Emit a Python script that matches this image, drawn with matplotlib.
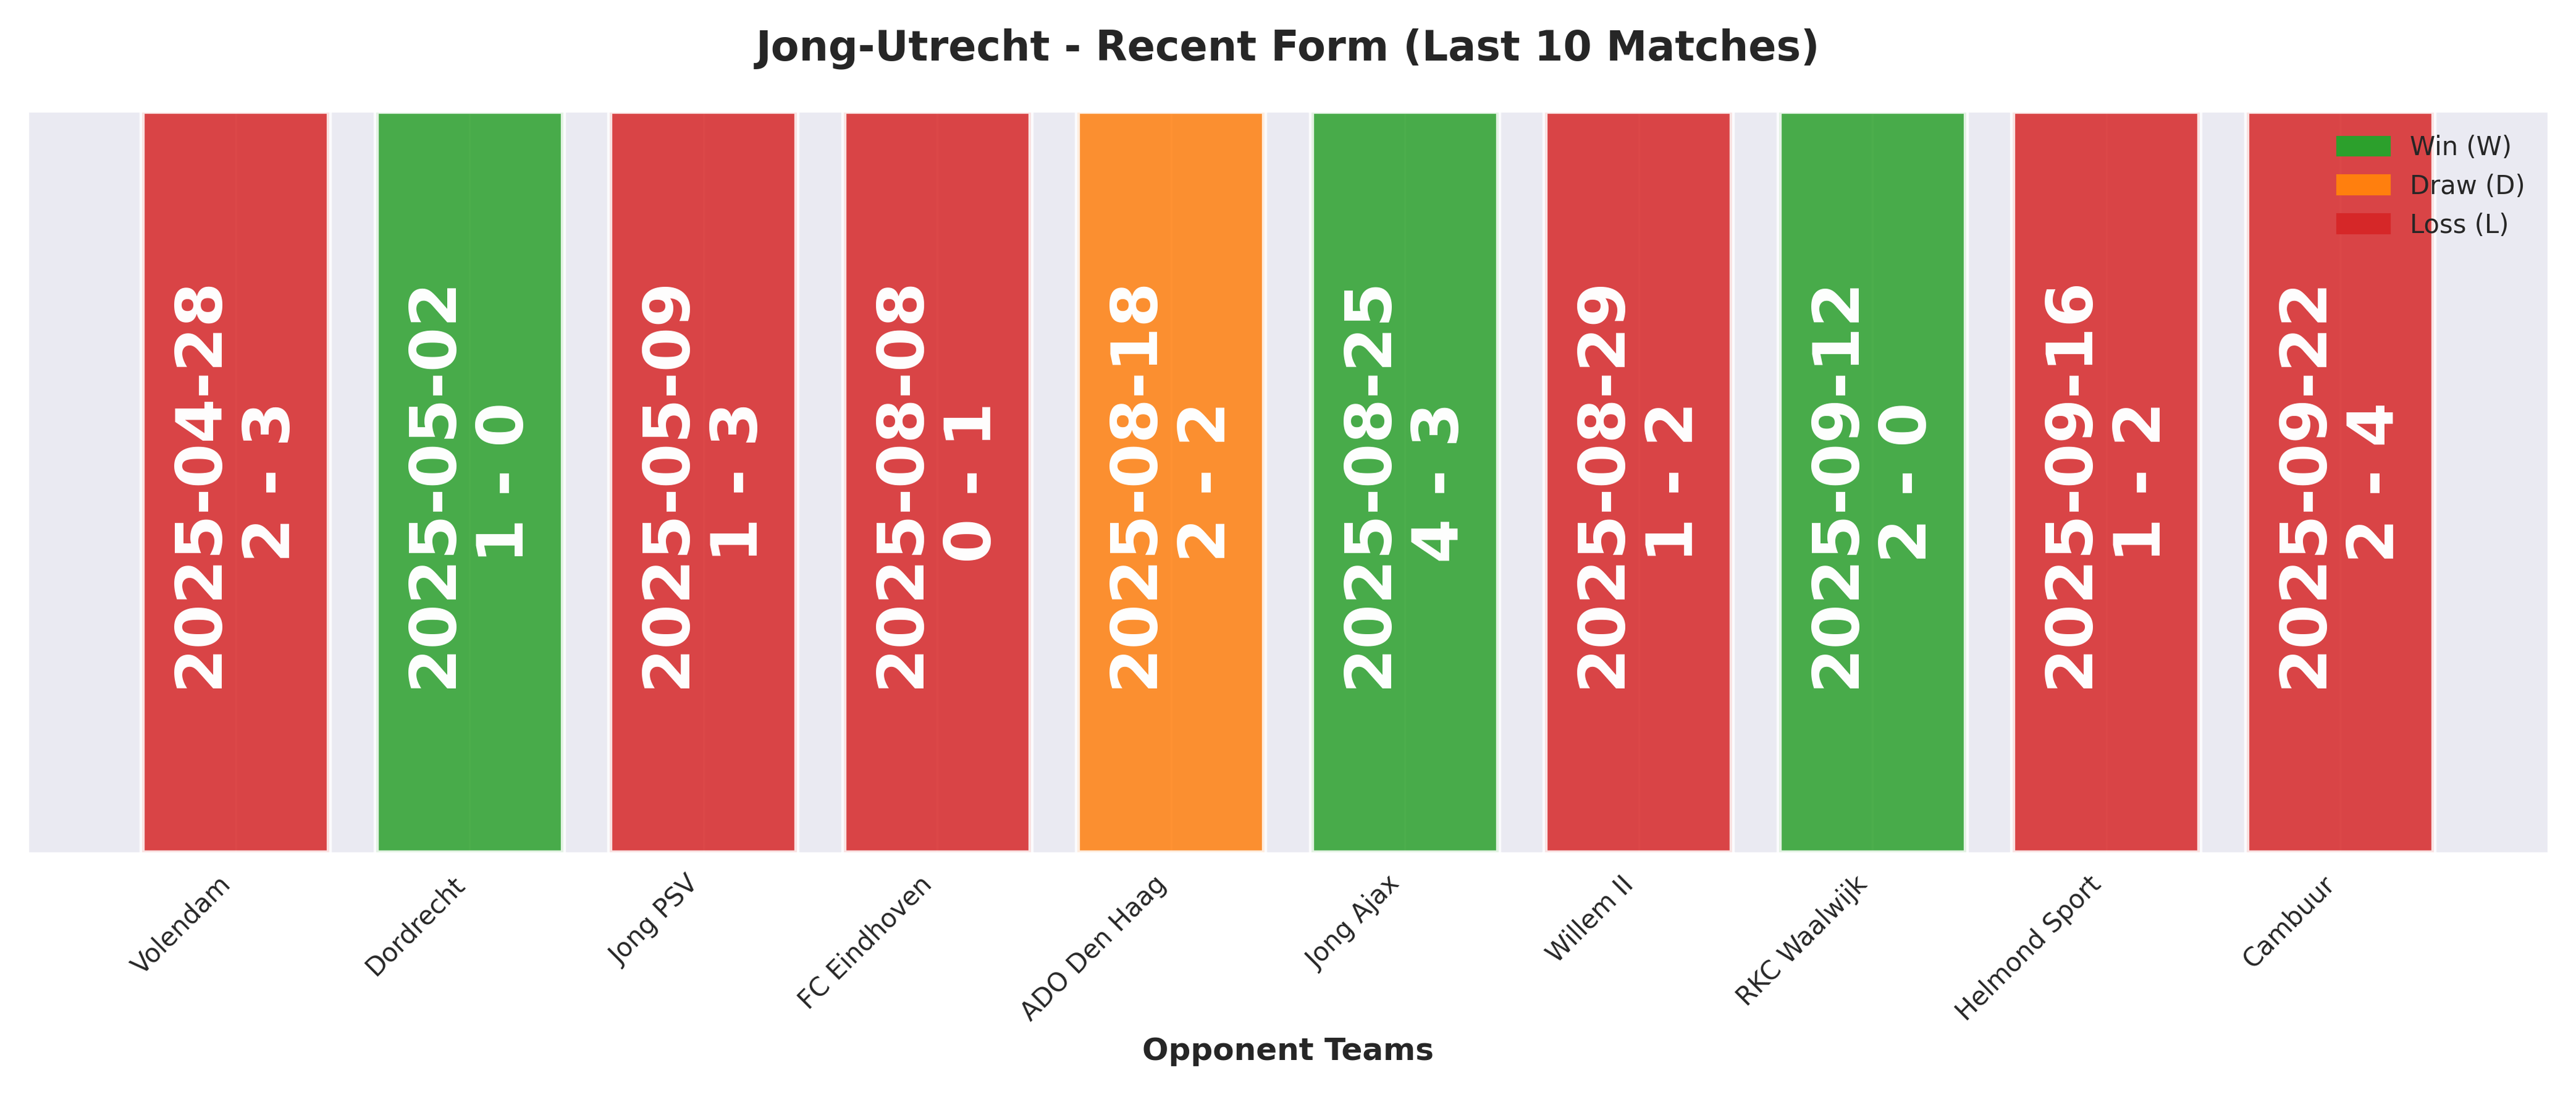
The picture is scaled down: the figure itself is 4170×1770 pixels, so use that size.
import matplotlib
matplotlib.use("Agg")
import matplotlib.pyplot as plt
import seaborn as sns
from matplotlib.patches import Patch

sns.set_style("darkgrid")

opponents = ["Volendam", "Dordrecht", "Jong PSV", "FC Eindhoven", "ADO Den Haag",
             "Jong Ajax", "Willem II", "RKC Waalwijk", "Helmond Sport", "Cambuur"]
dates = ["2025-04-28", "2025-05-02", "2025-05-09", "2025-08-08", "2025-08-18",
         "2025-08-25", "2025-08-29", "2025-09-12", "2025-09-16", "2025-09-22"]
scores = ["2 - 3", "1 - 0", "1 - 3", "0 - 1", "2 - 2", "4 - 3", "1 - 2", "2 - 0", "1 - 2", "2 - 4"]
results = ["L", "W", "L", "L", "D", "W", "L", "W", "L", "L"]

colors = {"W": "#2ca02c", "D": "#ff7f0e", "L": "#d62728"}

fig, ax = plt.subplots(figsize=(13.9, 5.9), dpi=300)
x = list(range(len(opponents)))
ax.bar(x, [1] * len(x), width=0.8, color=[colors[r] for r in results],
       alpha=0.85, edgecolor="white", linewidth=2)
for i in x:
    ax.text(i, 0.5, f"{dates[i]}\n{scores[i]}", rotation=90, ha="center", va="center",
            color="white", fontsize=25, fontweight="bold")
ax.set_ylim(0, 1)
ax.set_yticks([])
ax.set_xticks(x)
ax.set_xticklabels(opponents, rotation=45, ha="right", fontsize=10)
ax.set_xlabel("Opponent Teams", fontsize=12, fontweight="bold")
ax.set_title("Jong-Utrecht - Recent Form (Last 10 Matches)", fontsize=16, fontweight="bold", pad=20)
handles = [Patch(color=colors["W"], label="Win (W)"),
           Patch(color=colors["D"], label="Draw (D)"),
           Patch(color=colors["L"], label="Loss (L)")]
ax.legend(handles=handles, loc="upper right", fontsize=10, frameon=False)
plt.tight_layout()
fig.savefig("out.png", dpi=300)
